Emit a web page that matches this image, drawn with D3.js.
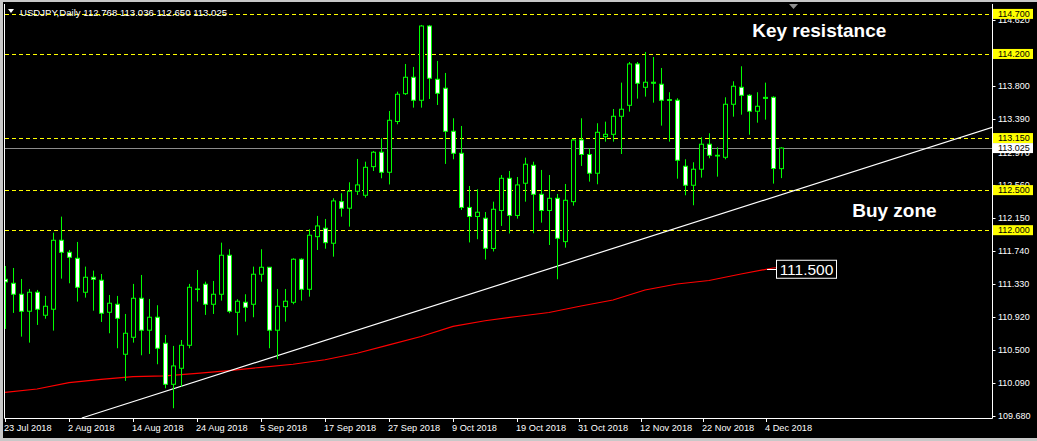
<!DOCTYPE html>
<html><head><meta charset="utf-8">
<script src="https://cdn.jsdelivr.net/npm/d3@7/dist/d3.min.js"></script>
<style>
html,body{margin:0;padding:0;background:#c8c8c8;overflow:hidden;}
svg{display:block;}
</style></head><body>
<svg id="chart" width="1037" height="441"></svg>
<script>
// ---------------- data ----------------
const titleText = "USDJPY,Daily 112.768 113.036 112.650 113.025";
const openP = [111.387,111.337,111.200,110.988,111.225,110.938,111.013,111.874,111.724,111.649,
111.225,111.412,111.375,110.975,111.075,110.451,110.663,111.150,110.751,110.913,
110.588,110.076,110.276,110.563,111.266,111.325,111.075,111.200,111.687,110.975,
111.100,111.075,111.450,111.537,110.751,111.045,111.100,111.637,111.262,111.919,
112.024,111.837,112.356,112.274,112.486,112.436,112.793,112.973,112.723,113.357,
113.704,113.909,113.622,114.549,113.884,113.772,113.235,112.960,112.284,112.171,
112.149,111.772,112.246,112.648,112.184,112.586,112.810,112.448,112.246,112.398,
111.857,112.356,113.126,112.945,112.711,113.167,113.197,113.422,113.559,114.075,
113.784,113.847,113.822,113.630,113.622,112.798,112.561,112.761,113.073,112.935,
112.910,113.572,113.784,113.684,113.485,113.645,113.659,112.768];
const highP = [111.553,111.528,111.391,111.266,111.254,111.179,111.969,112.169,111.753,111.853,
111.545,111.495,111.453,111.191,111.179,110.954,111.329,111.441,111.141,111.063,
110.692,110.555,110.629,111.329,111.503,111.357,111.366,111.844,111.762,111.138,
111.200,111.545,111.762,111.537,111.266,111.266,111.649,111.649,112.011,112.178,
112.140,112.398,112.461,112.598,112.889,112.855,112.989,113.148,113.488,113.729,
114.075,114.038,114.562,114.562,114.113,113.963,113.397,113.301,112.552,112.511,
112.227,112.356,112.689,112.739,112.664,112.905,112.855,112.752,112.689,112.452,
112.577,113.139,113.397,113.023,113.335,113.355,113.513,113.842,114.100,114.100,
114.225,114.162,114.025,113.722,113.647,112.885,112.848,113.160,113.210,113.035,
113.659,113.859,114.046,113.697,113.722,113.842,113.672,113.036];
const lowP = [110.767,110.967,110.671,110.596,110.817,110.895,110.746,111.395,111.337,111.108,
111.158,110.995,110.854,110.713,110.526,110.118,110.596,110.438,110.455,110.326,
110.026,109.777,110.046,110.526,111.108,110.942,110.954,111.120,110.963,110.688,
110.858,110.913,111.357,110.526,110.389,110.858,111.075,111.120,111.170,111.753,
111.769,111.669,112.169,112.044,112.440,112.406,112.739,112.648,112.571,113.322,
113.688,113.530,113.530,113.638,113.563,112.827,112.885,112.252,111.847,111.887,
111.634,111.734,112.053,111.959,112.144,112.356,111.962,112.094,111.815,111.387,
111.782,112.306,112.802,112.606,112.573,113.105,113.105,112.951,113.480,113.642,
113.667,113.592,113.305,113.105,112.643,112.436,112.311,112.656,112.898,112.668,
112.885,113.417,113.442,113.192,113.342,113.380,112.581,112.650];
const closeP = [111.354,111.200,110.988,111.225,111.013,111.050,111.874,111.724,111.662,111.287,
111.412,111.387,110.963,111.088,110.900,110.713,111.150,110.751,110.913,110.526,
110.076,110.305,110.563,111.287,111.259,111.075,111.200,111.687,110.988,111.113,
111.038,111.450,111.537,110.751,111.050,111.113,111.637,111.262,111.937,112.053,
111.844,112.365,112.274,112.486,112.565,112.785,112.973,112.723,113.372,113.697,
113.909,113.622,114.549,113.897,113.709,113.235,112.960,112.284,112.171,112.224,
111.774,112.261,112.648,112.184,112.565,112.823,112.448,112.246,112.398,111.899,
112.373,113.126,112.945,112.711,113.222,113.197,113.422,113.510,114.075,113.834,
113.847,113.835,113.622,113.620,112.873,112.561,112.761,113.073,112.935,112.926,
113.572,113.797,113.684,113.485,113.547,113.658,112.770,113.025];

// moving average (red), sampled by bar index
const maIdx = [0,4,8,12,16,20,24,28,32,36,40,44,48,52,56,60,64,68,72,76,80,84,88,92,96,97];
const maVal = [109.976,110.017,110.096,110.138,110.171,110.180,110.213,110.247,110.288,110.326,
110.382,110.463,110.567,110.673,110.798,110.869,110.922,110.972,111.053,111.128,
111.253,111.328,111.372,111.453,111.528,111.537];
const maLabel = "111.500";

// white trend line anchors (bar index, price)
const trendIdx = [9.6, 123.4];
const trendPrice = [109.655, 113.284];

// horizontal levels
const levelPrices = [114.700, 114.200, 113.150, 112.500, 112.000];
const levelLabels = ["114.700", "114.200", "113.150", "112.500", "112.000"];
const bidPrice = 113.025;
const bidLabel = "113.025";

// axes
const yTickVals = [114.62, 114.21, 113.80, 113.39, 112.97, 112.56, 112.15, 111.74, 111.33, 110.92, 110.50, 110.09, 109.68];
const xTickIdx = [0, 8, 16, 24, 32, 40, 48, 56, 64, 71.75, 79.5, 87.3, 95.1];
const xTickLabels = ["23 Jul 2018","2 Aug 2018","14 Aug 2018","24 Aug 2018","5 Sep 2018","17 Sep 2018",
"27 Sep 2018","9 Oct 2018","19 Oct 2018","31 Oct 2018","12 Nov 2018","22 Nov 2018","4 Dec 2018"];

// annotations
const noteTexts = ["Key resistance", "Buy zone"];
const notePrices = [114.415, 112.17];
const noteIdx = [93.4, 105.9];

// ---------------- drawing ----------------
const svg = d3.select("#chart");
const plot = {left: 5, right: 992, top: 4, bottom: 419};
const FONT = "'Liberation Sans', Arial, sans-serif";

const x = d3.scaleLinear().domain([0, 97]).range([5, 781]);
const y = d3.scaleLinear().domain([109.68, 113.80]).range([416, 86]);

svg.append("rect").attr("x", 3).attr("y", 2).attr("width", 1034).attr("height", 436).attr("fill", "#000");

svg.append("defs").append("clipPath").attr("id", "plotclip")
  .append("rect").attr("x", plot.left).attr("y", plot.top)
  .attr("width", plot.right - plot.left).attr("height", plot.bottom - plot.top);

const g = svg.append("g").attr("clip-path", "url(#plotclip)");
const crisp = v => Math.round(v) + 0.5;

// yellow levels
g.selectAll("line.level").data(levelPrices).join("line")
  .attr("x1", plot.left).attr("x2", plot.right)
  .attr("y1", d => crisp(y(d))).attr("y2", d => crisp(y(d)))
  .attr("stroke", "#ffff00").attr("stroke-width", 1).attr("stroke-dasharray", "4,3");

// bid line
g.append("line").attr("x1", plot.left).attr("x2", plot.right)
  .attr("y1", crisp(y(bidPrice))).attr("y2", crisp(y(bidPrice)))
  .attr("stroke", "#8c8c8c").attr("stroke-width", 1);

// moving average
const maPts = maIdx.map((d, i) => [x(d), y(maVal[i])]);
g.append("path").attr("d", d3.line()(maPts))
  .attr("fill", "none").attr("stroke", "#ff0000").attr("stroke-width", 1.2);

// trend line
g.append("line")
  .attr("x1", x(trendIdx[0])).attr("y1", y(trendPrice[0]))
  .attr("x2", x(trendIdx[1])).attr("y2", y(trendPrice[1]))
  .attr("stroke", "#ffffff").attr("stroke-width", 1.2);

// candles
const idx = d3.range(openP.length);
const cg = g.append("g");
cg.selectAll("line.wick").data(idx).join("line")
  .attr("x1", i => crisp(x(i))).attr("x2", i => crisp(x(i)))
  .attr("y1", i => y(highP[i])).attr("y2", i => y(lowP[i]))
  .attr("stroke", "#00ff00").attr("stroke-width", 1);
cg.selectAll("rect.body").data(idx).join("rect")
  .attr("x", i => Math.round(x(i)) - 2 + 0.5)
  .attr("width", 4)
  .attr("y", i => y(Math.max(openP[i], closeP[i])))
  .attr("height", i => Math.max(0.3, Math.abs(y(openP[i]) - y(closeP[i]))))
  .attr("fill", i => closeP[i] >= openP[i] ? "#000000" : "#ffffff")
  .attr("stroke", "#00ff00").attr("stroke-width", 1);

// frame
svg.append("path")
  .attr("d", `M${plot.left - 0.5},${plot.top} V${plot.bottom - 0.5} H${plot.right + 0.5} V${plot.top}`)
  .attr("fill", "none").attr("stroke", "#ffffff").attr("stroke-width", 1);

// y axis ticks and labels
const yAx = svg.append("g");
yAx.selectAll("line").data(yTickVals).join("line")
  .attr("x1", plot.right + 0.5).attr("x2", plot.right + 3.5)
  .attr("y1", d => crisp(y(d))).attr("y2", d => crisp(y(d)))
  .attr("stroke", "#fff");
yAx.selectAll("text").data(yTickVals).join("text")
  .attr("x", 998).attr("y", d => y(d)).attr("dy", "0.35em")
  .attr("fill", "#ffffff").attr("font-family", FONT).attr("font-size", 9)
  .text(d => d.toFixed(3));

// level labels
const lv = svg.append("g");
lv.selectAll("rect").data(levelPrices).join("rect")
  .attr("x", 993).attr("width", 40).attr("y", d => y(d) - 5).attr("height", 10)
  .attr("fill", "#ffff00");
lv.selectAll("text").data(levelPrices).join("text")
  .attr("x", 998).attr("y", d => y(d)).attr("dy", "0.35em")
  .attr("fill", "#000").attr("font-family", FONT).attr("font-size", 9)
  .text((d, i) => levelLabels[i]);
svg.append("rect").attr("x", 993).attr("width", 40).attr("y", y(bidPrice) - 5).attr("height", 10).attr("fill", "#ffffff");
svg.append("text").attr("x", 998).attr("y", y(bidPrice)).attr("dy", "0.35em")
  .attr("fill", "#000").attr("font-family", FONT).attr("font-size", 9).text(bidLabel);

// x axis
const xAx = svg.append("g");
xAx.selectAll("line").data(xTickIdx).join("line")
  .attr("x1", d => crisp(x(d))).attr("x2", d => crisp(x(d)))
  .attr("y1", plot.bottom).attr("y2", plot.bottom + 3)
  .attr("stroke", "#fff");
xAx.selectAll("text").data(xTickIdx).join("text")
  .attr("x", d => Math.round(x(d)) - 1).attr("y", 431)
  .attr("fill", "#ffffff").attr("font-family", FONT).attr("font-size", 9.2)
  .text((d, i) => xTickLabels[i]);

// title
svg.append("path").attr("d", "M8,9 L14,9 L11,13 Z").attr("fill", "#ffffff");
svg.append("text").attr("x", 20).attr("y", 16)
  .attr("fill", "#ffffff").attr("font-family", FONT).attr("font-size", 9.6)
  .text(titleText);

// chart shift marker
svg.append("path").attr("d", "M789,4 L798,4 L793.5,9 Z").attr("fill", "#909090");

// MA label
const lastMa = maVal[maVal.length - 1];
const lblY = y(lastMa) + 2;
svg.append("line").attr("x1", 767).attr("x2", 777).attr("y1", crisp(lblY)).attr("y2", crisp(lblY))
  .attr("stroke", "#fff");
svg.append("rect").attr("x", 776.5).attr("y", lblY - 9).attr("width", 60).attr("height", 18)
  .attr("fill", "#000").attr("stroke", "#fff").attr("stroke-width", 1);
svg.append("text").attr("x", 806.5).attr("y", lblY).attr("dy", "0.36em")
  .attr("text-anchor", "middle").attr("fill", "#fff")
  .attr("font-family", FONT).attr("font-size", 15.5).text(maLabel);

// annotations
svg.selectAll("text.note").data(noteTexts).join("text")
  .attr("class", "note")
  .attr("x", (d, i) => x(noteIdx[i])).attr("y", (d, i) => y(notePrices[i]))
  .attr("fill", "#ffffff").attr("font-family", FONT).attr("font-weight", "bold")
  .attr("font-size", 19).text(d => d);
</script>
</body></html>
